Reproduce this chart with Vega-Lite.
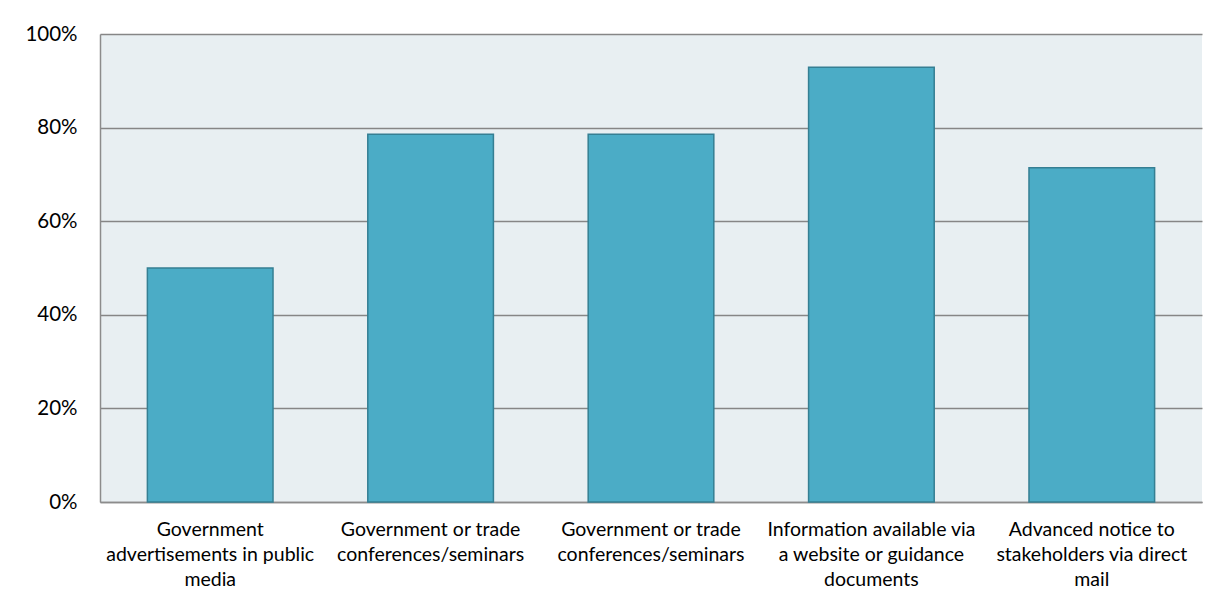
{
  "$schema": "https://vega.github.io/schema/vega-lite/v6.json",
  "autosize": {"type": "none"},
  "width": 1102,
  "height": 468,
  "padding": {"left": 100, "top": 34, "right": 27, "bottom": 105},
  "background": "#ffffff",
  "config": {
    "view": {"fill": "#E8EFF2", "stroke": null},
    "font": "Lato"
  },
  "data": {
    "values": [
      {"category": "Government|advertisements in public|media", "share": 0.5},
      {"category": "Government or trade|conferences/seminars", "share": 0.786},
      {"category": "Government or trade|conferences/seminars ", "share": 0.786},
      {"category": "Information available via|a website or guidance|documents", "share": 0.929},
      {"category": "Advanced notice to|stakeholders via direct|mail", "share": 0.714}
    ]
  },
  "mark": {"type": "bar", "fill": "#4BACC6", "stroke": "#357F93", "strokeWidth": 1.5},
  "encoding": {
    "x": {
      "field": "category",
      "type": "nominal",
      "sort": null,
      "scale": {"paddingInner": 0.43, "paddingOuter": 0.215},
      "axis": {
        "title": null,
        "labelAngle": 0,
        "labelExpr": "split(datum.label, '|')",
        "labelFont": "Lato",
        "labelFontSize": 19.5,
        "labelColor": "#000000",
        "labelLineHeight": 25,
        "labelPadding": 18,
        "labelBaseline": "top",
        "ticks": false,
        "domain": true,
        "domainColor": "#8C8C8C",
        "domainWidth": 1.5,
        "labelLimit": 300
      }
    },
    "y": {
      "field": "share",
      "type": "quantitative",
      "scale": {"domain": [0, 1], "nice": false},
      "axis": {
        "title": null,
        "format": ".0%",
        "values": [0, 0.2, 0.4, 0.6, 0.8, 1],
        "labelFont": "Lato",
        "labelFontSize": 20.5,
        "labelColor": "#000000",
        "labelPadding": 23,
        "ticks": false,
        "domain": true,
        "domainColor": "#8C8C8C",
        "domainWidth": 1.5,
        "grid": true,
        "gridColor": "#868686",
        "gridWidth": 1.3
      }
    }
  }
}
